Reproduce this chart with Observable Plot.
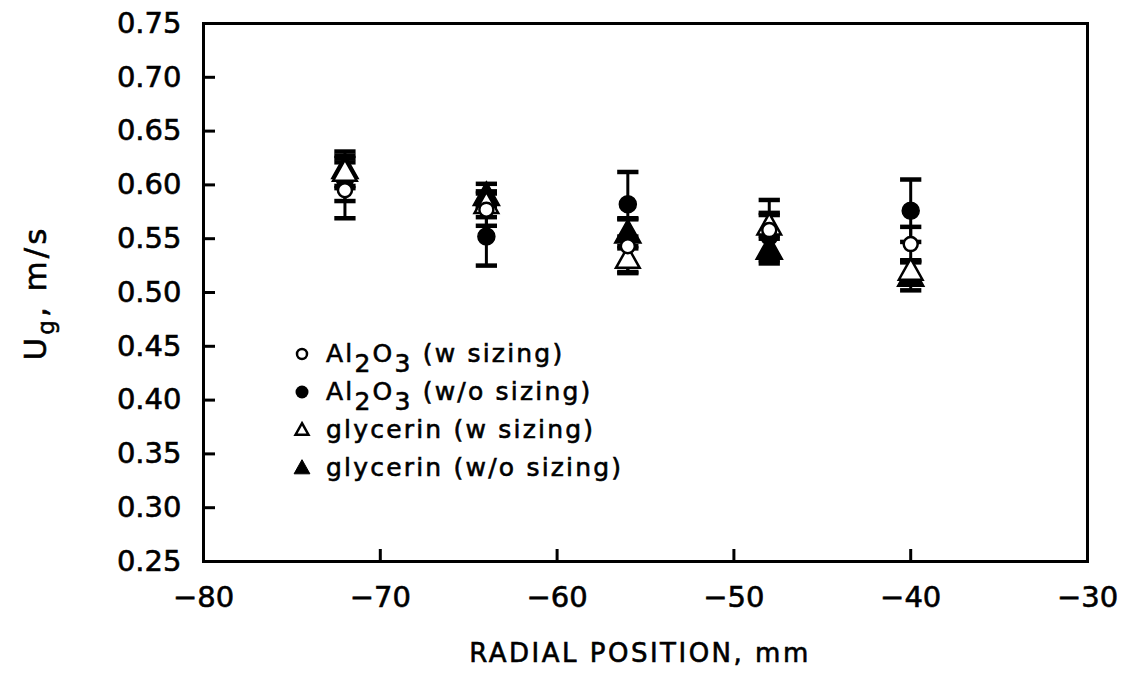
<!DOCTYPE html>
<html><head><meta charset="utf-8">
<script src="https://cdn.jsdelivr.net/npm/d3@7"></script>
<script src="https://cdn.jsdelivr.net/npm/@observablehq/plot@0.6"></script>
<style>
body{margin:0;background:#fff;}
#chart{position:relative;width:1122px;height:673px;}
svg text{stroke:#000;stroke-width:0.6px;}
</style></head><body><div id="chart"></div>
<script>
// ---- data ----
const positions = [-72, -64, -56, -48, -40];
const seriesNames = ["Al2O3 (w sizing)", "Al2O3 (w/o sizing)", "glycerin (w sizing)", "glycerin (w/o sizing)"];
const al2o3W = [0.595, 0.577, 0.543, 0.558, 0.545];
const al2o3WErr = [0.026, 0.015, 0.025, 0.028, 0.016];
const al2o3WO = [0.605, 0.552, 0.582, 0.552, 0.576];
const al2o3WOErr = [0.020, 0.027, 0.030, 0.020, 0.029];
const glyW = [0.612, 0.582, 0.531, 0.562, 0.520];
const glyWErr = [0.015, 0.012, 0.012, 0.012, 0.010];
const glyWO = [0.615, 0.590, 0.555, 0.540, 0.515];
const glyWOErr = [0.016, 0.011, 0.014, 0.013, 0.013];
const xTicks = [-80, -70, -60, -50, -40, -30];
const yTicks = [0.25, 0.30, 0.35, 0.40, 0.45, 0.50, 0.55, 0.60, 0.65, 0.70, 0.75];

const triSym = {draw(ctx, size){const r=Math.sqrt(size/1.3);ctx.moveTo(0,-r);ctx.lineTo(r*0.95,r*0.7);ctx.lineTo(-r*0.95,r*0.7);ctx.closePath();}};
const capSym = {draw(ctx, size){const r=Math.sqrt(size);ctx.moveTo(-r,0);ctx.lineTo(r,0);}};

const vals = [al2o3W, al2o3WO, glyW, glyWO];
const errs = [al2o3WErr, al2o3WOErr, glyWErr, glyWOErr];
const rows = [];
seriesNames.forEach((s, i) => positions.forEach((x, j) => rows.push({series: s, k: i, x, y: vals[i][j], e: errs[i][j]})));

const font = "'DejaVu Sans', sans-serif";
const W = 1122, H = 673;
const mL = 203, mR = 35, mT = 23, mB = 112;

const plot = Plot.plot({
  width: W, height: H,
  marginLeft: mL, marginRight: mR, marginTop: mT, marginBottom: mB,
  style: {fontFamily: font, fontSize: "29px", color: "#000", background: "#fff", overflow: "visible"},
  x: {domain: [-80, -30], ticks: xTicks},
  y: {domain: [0.25, 0.75], ticks: yTicks},
  marks: [
    Plot.frame({stroke: "#000", strokeWidth: 3}),
    Plot.axisY({ticks: yTicks, tickSize: 0, tickPadding: 22, tickFormat: d3.format(".2f"), label: null, fontSize: 29}),
    Plot.axisY({ticks: yTicks.slice(1, -1), tickSize: -12, tickFormat: () => "", strokeWidth: 3, label: null}),
    Plot.axisX({ticks: xTicks, tickSize: 0, tickPadding: 25, tickFormat: d => d === 0 ? "0" : "\u2212" + Math.abs(d), label: null, fontSize: 29}),
    Plot.axisX({ticks: xTicks.slice(1, -1), tickSize: -12, tickFormat: () => "", strokeWidth: 3, label: null}),
    Plot.ruleX(rows, {x: "x", y1: d => d.y - d.e, y2: d => d.y + d.e, stroke: "#000", strokeWidth: 3}),
    Plot.dot(rows, {x: "x", y: d => d.y - d.e, symbol: capSym, r: 6, stroke: "#000", strokeWidth: 4.5}),
    Plot.dot(rows, {x: "x", y: d => d.y + d.e, symbol: capSym, r: 6, stroke: "#000", strokeWidth: 4.5}),
    Plot.dot(rows.filter(d => d.k === 1), {x: "x", y: "y", r: 8.5, fill: "#000", stroke: "#000"}),
    Plot.dot(rows.filter(d => d.k === 3), {x: "x", y: "y", symbol: triSym, r: 9, fill: "#000", stroke: "#000"}),
    Plot.dot(rows.filter(d => d.k === 2), {x: "x", y: "y", symbol: triSym, r: 8, fill: "#fff", stroke: "#000", strokeWidth: 2.5}),
    Plot.dot(rows.filter(d => d.k === 0), {x: "x", y: "y", r: 7, fill: "#fff", stroke: "#000", strokeWidth: 2.5})
  ]
});
document.getElementById("chart").appendChild(plot);

// ---- labels & legend ----
const svg = d3.select(plot);
svg.append("text").attr("x", 640).attr("y", 662).attr("text-anchor", "middle")
  .style("font-family", font).style("font-size", "26px").style("letter-spacing", "2.5px")
  .text("RADIAL POSITION, mm");
const yl = svg.append("text").attr("transform", `translate(46,293) rotate(-90)`)
  .attr("text-anchor", "middle").style("font-family", font).style("font-size", "31px")
  .style("letter-spacing", "3px");
yl.append("tspan").text("U");
yl.append("tspan").attr("dy", 8).style("font-size", "23px").text("g");
yl.append("tspan").attr("dy", -8).text(", m/s");

const leg = svg.append("g").style("font-family", font).style("font-size", "25px")
  .style("letter-spacing", "2.2px");
const legendItems = [
  {k: 0, parts: [["Al",0],["2",1],["O",0],["3",1],[" (w sizing)",0]]},
  {k: 1, parts: [["Al",0],["2",1],["O",0],["3",1],[" (w/o sizing)",0]]},
  {k: 2, parts: [["glycerin (w sizing)",0]]},
  {k: 3, parts: [["glycerin (w/o sizing)",0]]}
];
legendItems.forEach((it, i) => {
  const cy = 354 + i * 38;
  const mx = 302;
  if (it.k === 0) leg.append("circle").attr("cx", mx).attr("cy", cy).attr("r", 5).attr("fill", "#fff").attr("stroke", "#000").attr("stroke-width", 2.5);
  if (it.k === 1) leg.append("circle").attr("cx", mx).attr("cy", cy).attr("r", 6.5).attr("fill", "#000");
  if (it.k >= 2) leg.append("path").attr("d", d3.symbol(triSym, it.k === 3 ? 90 : 60)()).attr("transform", `translate(${mx},${cy})`)
    .attr("fill", it.k === 3 ? "#000" : "#fff").attr("stroke", "#000").attr("stroke-width", it.k === 3 ? 1 : 2.5);
  const t = leg.append("text").attr("x", mx + 24).attr("y", cy + 8).attr("text-anchor", "start");
  let prevSub = 0;
  it.parts.forEach(([s, sub]) => {
    const ts = t.append("tspan").text(s);
    if (sub !== prevSub) ts.attr("dy", sub ? 10 : -10);
    prevSub = sub;
  });
});
</script></body></html>
